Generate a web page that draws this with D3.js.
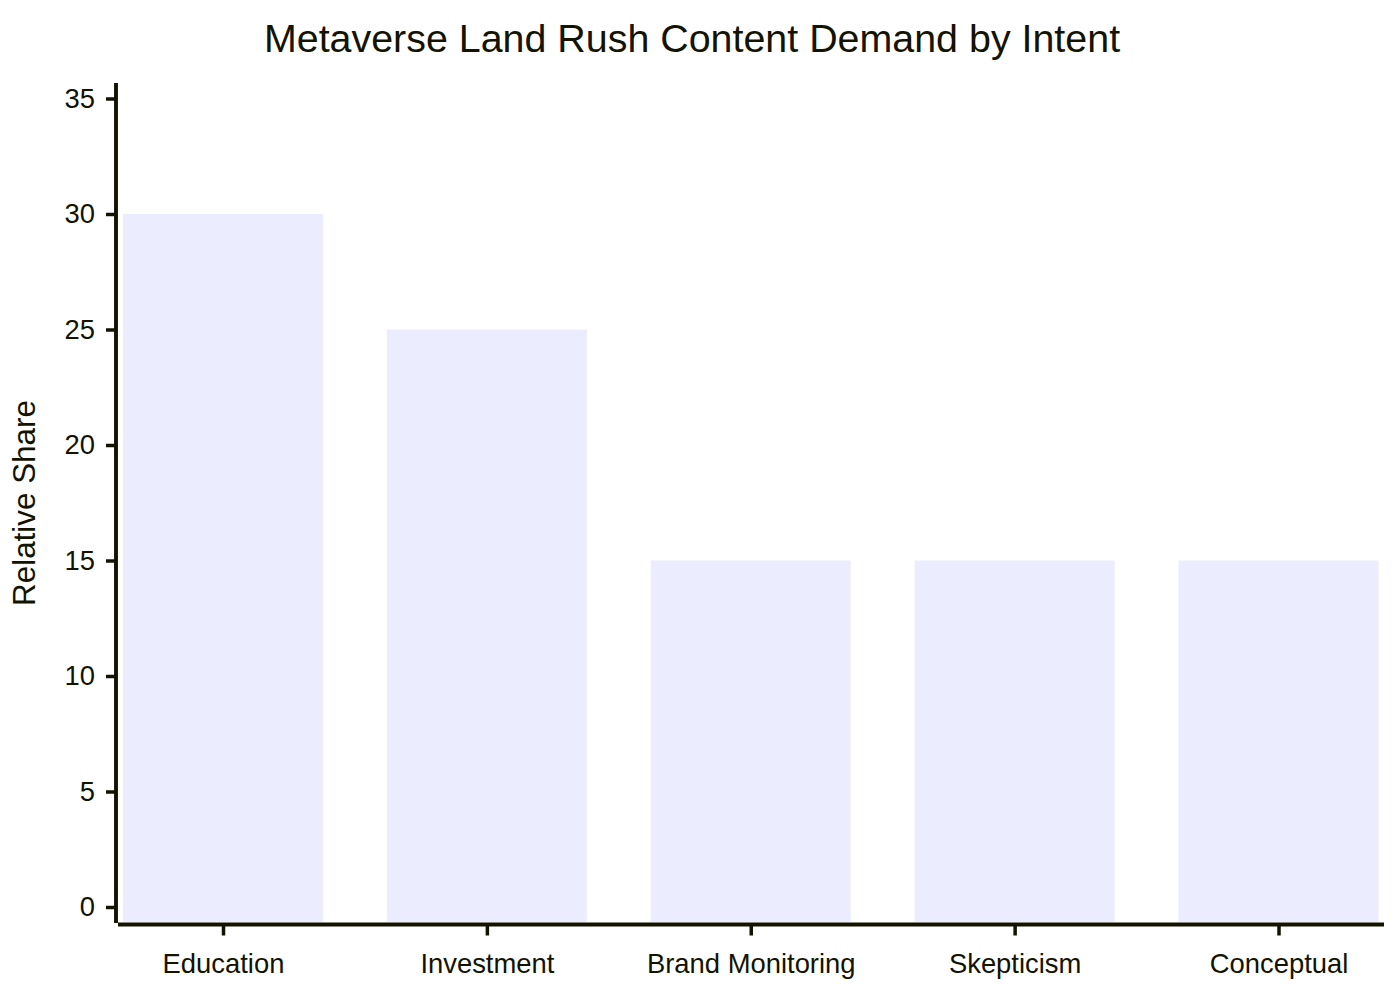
<!DOCTYPE html>
<html>
<head>
<meta charset="utf-8">
<script src="https://cdn.jsdelivr.net/npm/d3@7"></script>
<style>
  html, body { margin: 0; padding: 0; background: #ffffff; }
  svg { display: block; font-family: "Liberation Sans", Arial, sans-serif; }
</style>
</head>
<body>
<svg id="chart" width="1400" height="1000"></svg>
<script>
const chartTitle = "Metaverse Land Rush Content Demand by Intent";
const yAxisTitle = "Relative Share";
const categories = ["Education", "Investment", "Brand Monitoring", "Skepticism", "Conceptual"];
const values = [30, 25, 15, 15, 15];
const yTicks = [0, 5, 10, 15, 20, 25, 30, 35];

const ink = "#131300";
const barFill = "#ECECFF";

const svg = d3.select("#chart");

const plotLeft = 116, plotRight = 1384, plotTop = 83, plotBottom = 922;

const x = d3.scalePoint().domain(categories).range([223, 1278.5]);
const y = d3.scaleLinear().domain([0, 35]).range([907, 98.5]);
const barWidth = 200;

// bars
svg.append("g").selectAll("rect")
  .data(categories.map((c, i) => ({ c, v: values[i] })))
  .join("rect")
  .attr("x", d => x(d.c) - barWidth / 2)
  .attr("y", d => y(d.v))
  .attr("width", barWidth)
  .attr("height", d => plotBottom - y(d.v))
  .attr("fill", barFill);

// title
svg.append("text")
  .attr("x", 692).attr("y", 42)
  .attr("text-anchor", "middle")
  .attr("dominant-baseline", "middle")
  .attr("font-size", 39.4)
  .attr("fill", ink)
  .text(chartTitle);

// y axis
const yAxis = d3.axisLeft(y).tickValues(yTicks).tickSize(10).tickPadding(11).tickSizeOuter(0);
const gy = svg.append("g").attr("transform", `translate(${plotLeft},0)`).call(yAxis);
gy.select(".domain").remove();
gy.selectAll(".tick line").attr("stroke", ink).attr("stroke-width", 3.5);
gy.selectAll(".tick text").attr("fill", ink).attr("font-size", 27.4)
  .attr("font-family", "'Liberation Sans', Arial, sans-serif");
svg.append("line")
  .attr("x1", plotLeft).attr("x2", plotLeft)
  .attr("y1", plotTop).attr("y2", plotBottom + 1)
  .attr("stroke", ink).attr("stroke-width", 3.9);

// x axis
const xAxis = d3.axisBottom(x).tickSize(11).tickPadding(18).tickSizeOuter(0);
const gx = svg.append("g").attr("transform", `translate(0,${plotBottom + 2.5})`).call(xAxis);
gx.select(".domain").remove();
gx.selectAll(".tick line").attr("stroke", ink).attr("stroke-width", 3.5);
gx.selectAll(".tick text").attr("fill", ink).attr("font-size", 27.4)
  .attr("font-family", "'Liberation Sans', Arial, sans-serif");
svg.append("line")
  .attr("x1", plotLeft + 2).attr("x2", plotRight)
  .attr("y1", plotBottom + 2.5).attr("y2", plotBottom + 2.5)
  .attr("stroke", ink).attr("stroke-width", 3.9);

// y axis title
svg.append("text")
  .attr("transform", `translate(27,503) rotate(-90)`)
  .attr("text-anchor", "middle")
  .attr("dominant-baseline", "middle")
  .attr("font-size", 31.4)
  .attr("fill", ink)
  .text(yAxisTitle);
</script>
</body>
</html>
